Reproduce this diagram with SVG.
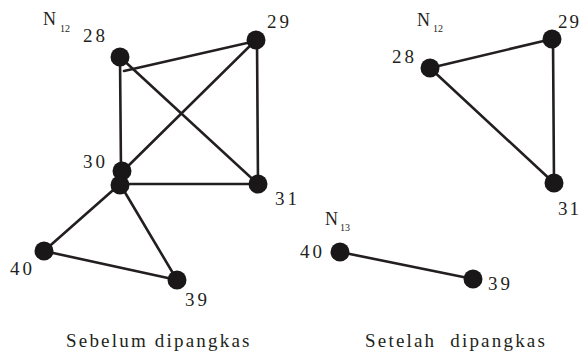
<svg xmlns="http://www.w3.org/2000/svg" width="583" height="354" viewBox="0 0 583 354">
<style>
.e{stroke:#231f20;stroke-width:2.6;fill:none;stroke-linecap:round}
.n{fill:#1a1718}
.t{font-family:'Liberation Serif','DejaVu Serif','Times New Roman',serif;fill:#231f20}
.lb{font-size:19px;letter-spacing:3px}
.lr{font-size:19px;letter-spacing:2px}
.nn{font-size:18px}
.sub{font-size:10px}
.cap{font-size:19px;letter-spacing:2.2px}
</style>
<rect width="583" height="354" fill="#fff"/>
<g id="connectors">
<line class="e" x1="120" y1="57" x2="121" y2="172"/>
<line class="e" x1="257" y1="40" x2="258" y2="184"/>
<line class="e" x1="124" y1="71" x2="256" y2="41"/>
<line class="e" x1="120" y1="57" x2="258" y2="184"/>
<line class="e" x1="256" y1="40" x2="122" y2="172"/>
<line class="e" x1="120" y1="184" x2="258" y2="184"/>
<line class="e" x1="120" y1="184" x2="44" y2="251"/>
<line class="e" x1="120" y1="184" x2="177" y2="280"/>
<line class="e" x1="44" y1="251" x2="177" y2="280"/>
<line class="e" x1="430" y1="68" x2="552" y2="39"/>
<line class="e" x1="430" y1="68" x2="554" y2="183"/>
<line class="e" x1="553" y1="39" x2="554" y2="183"/>
<line class="e" x1="340" y1="252" x2="473" y2="279"/>
</g>
<g id="L28"><circle class="n" cx="120" cy="57" r="9.5"/><text class="t lb" x="83" y="42">28</text></g>
<g id="L29"><circle class="n" cx="256" cy="40" r="9.5"/><text class="t lb" x="267" y="28">29</text></g>
<g id="L30"><circle class="n" cx="122" cy="171" r="9.5"/><circle class="n" cx="120" cy="185" r="9.5"/><text class="t lb" x="83" y="168">30</text></g>
<g id="L31"><circle class="n" cx="258" cy="184" r="9.5"/><text class="t lb" x="275" y="205">31</text></g>
<g id="L40"><circle class="n" cx="44" cy="251" r="9.5"/><text class="t lb" x="10" y="275">40</text></g>
<g id="L39"><circle class="n" cx="177" cy="280" r="9.5"/><text class="t lb" x="185" y="306">39</text></g>
<g id="LN12"><text class="t nn" x="43" y="25">N</text><text class="t sub" x="60" y="32">12</text></g>
<g id="R28"><circle class="n" cx="430" cy="68" r="9.5"/><text class="t lb" x="392" y="63">28</text></g>
<g id="R29"><circle class="n" cx="552" cy="39" r="9.5"/><text class="t lr" x="558" y="28">29</text></g>
<g id="R31"><circle class="n" cx="554" cy="183" r="9.5"/><text class="t lr" x="558" y="215">31</text></g>
<g id="RN12"><text class="t nn" x="417" y="26">N</text><text class="t sub" x="433" y="32">12</text></g>
<g id="R40"><circle class="n" cx="340" cy="252" r="9.5"/><text class="t lb" x="300" y="258">40</text></g>
<g id="R39"><circle class="n" cx="473" cy="279" r="9.5"/><text class="t lb" x="488" y="290">39</text></g>
<g id="RN13"><text class="t nn" x="325" y="225">N</text><text class="t sub" x="340" y="231">13</text></g>
<text class="t cap" x="66" y="347">Sebelum dipangkas</text>
<text class="t cap" x="365" y="347" xml:space="preserve">Setelah  dipangkas</text>
</svg>
